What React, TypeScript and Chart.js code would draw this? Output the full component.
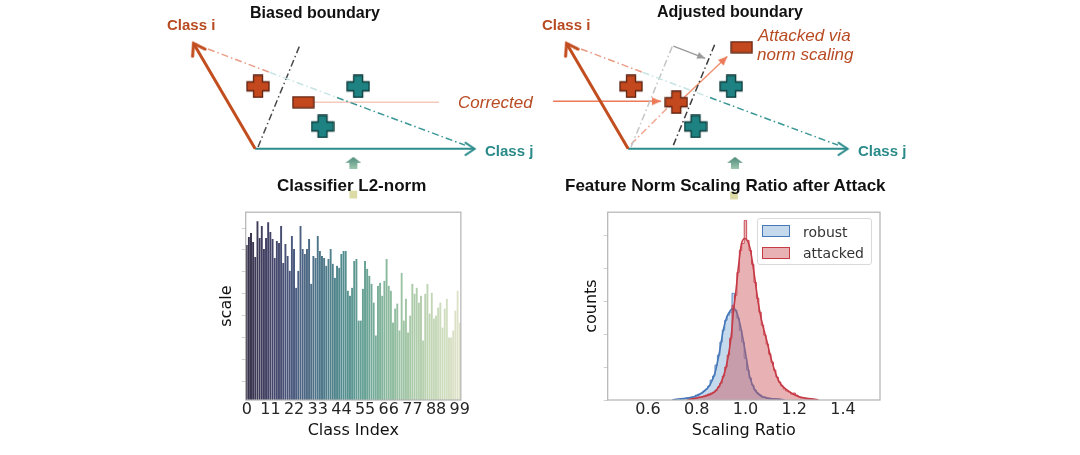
import React, { useEffect, useRef } from 'react';
import { Chart, registerables } from 'chart.js';

Chart.register(...registerables);

// ---------------- data: classifier L2-norm per class ----------------
const CLASS_INDEX: number[] = Array.from({ length: 100 }, (_, i) => i);
const CLASSIFIER_SCALE = [
  156, 164, 168, 159, 144, 180, 163, 175, 152, 163,
  179, 169, 162, 143, 160, 158, 175, 138, 157, 145,
  130, 165, 152, 113, 130, 175, 152, 147, 152, 162,
  117, 145, 143, 165, 150, 145, 143, 135, 142, 152,
  137, 123, 135, 133, 147, 150, 150, 110, 105, 113,
  140, 142, 80, 80, 112, 140, 132, 125, 117, 98,
  65, 115, 118, 105, 120, 142, 115, 110, 78, 92,
  97, 70, 128, 80, 102, 68, 85, 117, 107, 113,
  98, 105, 60, 107, 117, 87, 108, 82, 85, 93,
  98, 73, 92, 102, 63, 63, 70, 90, 110, 78,
];
const BAR_TICK_LABELS = [0, 11, 22, 33, 44, 55, 66, 77, 88, 99];
const BAR_Y_TICKS = [19, 41, 63, 85, 107, 129, 151, 173];
const BAR_PALETTE = ['#38324b', '#444368', '#4b5b7f', '#4e7489', '#528b8e', '#68a396', '#8cba9e', '#aacaa8', '#c7d9b8', '#e0e3c9'];

// ---------------- data: feature norm scaling ratio ----------------
const BIN_WIDTH = 0.01;
const ROBUST_BINS = [
  0.74, 0.75, 0.76, 0.77, 0.78, 0.79, 0.80, 0.81, 0.82, 0.83,
  0.84, 0.85, 0.86, 0.87, 0.88, 0.89, 0.90, 0.91, 0.92, 0.93,
  0.94, 0.95, 0.96, 0.97, 0.98, 0.99, 1.00, 1.01, 1.02, 1.03,
  1.04, 1.05, 1.06, 1.07, 1.08, 1.09, 1.10, 1.11, 1.12, 1.13, 1.14,
];
const ROBUST_COUNTS = [
  1, 1, 2, 2, 3, 3, 5, 6, 7, 9,
  11, 14, 20, 24, 35, 45, 58, 70, 80, 85,
  88, 107, 90, 82, 70, 58, 42, 30, 22, 15,
  10, 7, 5, 3, 3, 2, 1, 1, 1, 1, 1,
];
const ATTACKED_BINS = [
  0.78, 0.79, 0.80, 0.81, 0.82, 0.83, 0.84, 0.85, 0.86, 0.87,
  0.88, 0.89, 0.90, 0.91, 0.92, 0.93, 0.94, 0.95, 0.96, 0.97,
  0.98, 0.99, 1.00, 1.01, 1.02, 1.03, 1.04, 1.05, 1.06, 1.07,
  1.08, 1.09, 1.10, 1.11, 1.12, 1.13, 1.14, 1.15, 1.16, 1.17,
  1.18, 1.19, 1.20, 1.21, 1.22, 1.23, 1.24, 1.25, 1.26, 1.27,
];
const ATTACKED_COUNTS = [
  1, 1, 2, 3, 3, 4, 5, 6, 7, 8,
  10, 13, 17, 24, 33, 45, 62, 95, 105, 128,
  150, 157, 180, 160, 150, 136, 118, 102, 88, 75,
  65, 56, 46, 38, 30, 23, 18, 14, 11, 9,
  8, 6, 7, 5, 3, 2, 2, 1, 1, 1,
];
const ROBUST_KDE_X = [0.70, 0.724, 0.786, 0.827, 0.854, 0.875, 0.895, 0.909, 0.923, 0.939, 0.95, 0.964, 0.977, 0.991, 1.005, 1.018, 1.039, 1.073, 1.128, 1.16];
const ROBUST_KDE_Y = [0, 1, 3, 8, 15, 27, 50, 70, 83, 90, 92, 88, 77, 60, 40, 23, 10, 3, 1, 0];
const ATTACKED_KDE_X = [0.76, 0.80, 0.85, 0.882, 0.909, 0.929, 0.943, 0.95, 0.96, 0.971, 0.984, 0.998, 1.018, 1.032, 1.053, 1.066, 1.087, 1.107, 1.135, 1.183, 1.224, 1.278, 1.30];
const ATTACKED_KDE_Y = [0, 2, 5, 10, 23, 43, 67, 87, 107, 133, 157, 162, 153, 133, 97, 80, 60, 40, 20, 8, 3, 1, 0];
const HIST_X_TICKS = [0.6, 0.8, 1.0, 1.2, 1.4];
const HIST_Y_TICKS = [0, 33, 66, 99, 132, 165];

// ---------------- data: schematic diagrams (local units, y up) ----------------
type P = { x: number; y: number };
const ORIGIN: P = { x: 0, y: 0 };
const CLASS_I_TIP: P = { x: -64, y: 113 };
const CLASS_J_TIP: P = { x: 228, y: 0 };
const IJ_SALMON: P[] = [{ x: -49, y: 107 }, { x: 15, y: 82 }];
const IJ_PALE: P[] = [{ x: 15, y: 82 }, { x: 85, y: 55 }];
const IJ_TEAL: P[] = [{ x: 85, y: 55 }, { x: 218, y: 4 }];
const OLD_BOUNDARY: P[] = [{ x: 3, y: 2 }, { x: 46, y: 110 }];
const NEW_BOUNDARY: P[] = [{ x: 47, y: 4 }, { x: 90, y: 112 }];
const SHIFT_ARROW: P[] = [{ x: 47, y: 110 }, { x: 80, y: 97 }];
const ORANGE_PLUS: P[] = [{ x: 3, y: 67 }];
const TEAL_PLUS: P[] = [{ x: 107, y: 67 }, { x: 70, y: 24 }];
const SAMPLE_POINT: P = { x: 50, y: 50 };
const ATTACKED_POINT: P = { x: 118, y: 109 };
const CORRECTED_LINE: P[] = [{ x: 61, y: 50 }, { x: 191, y: 50 }];
const CORRECTED_ARROW: P[] = [{ x: -78, y: 51 }, { x: 34, y: 51 }];
const ATTACK_DASH: P[] = [{ x: 3, y: 5 }, { x: 42, y: 45 }];
const ATTACK_ARROW: P[] = [{ x: 58, y: 55 }, { x: 103, y: 99 }];
const UP_ARROW: { left: P; right: P } = { left: { x: 102, y: -15 }, right: { x: 111, y: -15 } };
const NOTE_MARK: { left: P; right: P } = { left: { x: 102, y: -49 }, right: { x: 110, y: -50 } };

const CLR_I = '#c24d1f';
const CLR_J = '#2d8b8b';
const DASHDOT = [7, 3, 1.5, 3];
const ROBUST_LINE = 'rgb(70,120,185)';
const ROBUST_FILL = 'rgba(110,160,210,0.4)';
const ATTACKED_LINE = 'rgb(198,58,70)';
const ATTACKED_FILL = 'rgba(205,85,92,0.45)';
const AXIS_FONT = 'DejaVu Sans';
const SANS = '"Liberation Sans", Arial, sans-serif';

// ---------------- helpers ----------------
function hexRgb(h: string) {
  const n = parseInt(h.slice(1), 16);
  return [(n >> 16) & 255, (n >> 8) & 255, n & 255];
}
function paletteColor(t: number) {
  const pos = t * (BAR_PALETTE.length - 1);
  const i = Math.min(Math.floor(pos), BAR_PALETTE.length - 2);
  const f = pos - i;
  const a = hexRgb(BAR_PALETTE[i]);
  const b = hexRgb(BAR_PALETTE[i + 1]);
  const c = a.map((v, k) => Math.round(v + (b[k] - v) * f));
  return `rgb(${c[0]},${c[1]},${c[2]})`;
}
function mk(w: number, h: number, draw: (c: CanvasRenderingContext2D) => void) {
  const cv = document.createElement('canvas');
  cv.width = w;
  cv.height = h;
  draw(cv.getContext('2d') as CanvasRenderingContext2D);
  return cv;
}
function plusImage(fill: string, stroke: string) {
  return mk(24, 24, (c) => {
    const o = 1, s = 22, a = 6.5, b = 15.5;
    c.beginPath();
    c.moveTo(o + a, o); c.lineTo(o + b, o); c.lineTo(o + b, o + a); c.lineTo(o + s, o + a);
    c.lineTo(o + s, o + b); c.lineTo(o + b, o + b); c.lineTo(o + b, o + s); c.lineTo(o + a, o + s);
    c.lineTo(o + a, o + b); c.lineTo(o, o + b); c.lineTo(o, o + a); c.lineTo(o + a, o + a);
    c.closePath();
    c.fillStyle = fill; c.fill();
    c.lineWidth = 1.3; c.strokeStyle = stroke; c.stroke();
  });
}
function minusImage(fill: string, stroke: string) {
  return mk(23, 13, (c) => {
    c.fillStyle = fill; c.fillRect(1, 1, 21, 11);
    c.lineWidth = 1.3; c.strokeStyle = stroke; c.strokeRect(1, 1, 21, 11);
  });
}
function chevronImage(color: string, len: number, width: number) {
  const s = Math.ceil(2 * len + 2 * width + 4);
  return mk(s, s, (c) => {
    const m = s / 2, ang = (34 * Math.PI) / 180;
    c.beginPath();
    c.moveTo(m - len * Math.cos(ang), m - len * Math.sin(ang));
    c.lineTo(m, m);
    c.lineTo(m - len * Math.cos(ang), m + len * Math.sin(ang));
    c.strokeStyle = color; c.lineWidth = width; c.lineCap = 'round'; c.lineJoin = 'miter';
    c.stroke();
  });
}
function triangleHead(color: string, len = 9, half = 4) {
  const s = 2 * len + 2;
  return mk(s, s, (c) => {
    const m = s / 2;
    c.beginPath(); c.moveTo(m, m); c.lineTo(m - len, m - half); c.lineTo(m - len, m + half); c.closePath();
    c.fillStyle = color; c.fill();
  });
}
function upArrowImage() {
  return mk(16, 12, (c) => {
    const g = c.createLinearGradient(0, 0, 0, 12);
    g.addColorStop(0, '#4f8b7c'); g.addColorStop(1, '#9cc7ae');
    c.fillStyle = g;
    c.beginPath();
    c.moveTo(0, 6); c.lineTo(8, 0); c.lineTo(16, 6); c.lineTo(12, 6); c.lineTo(12, 12); c.lineTo(4, 12); c.lineTo(4, 6);
    c.closePath(); c.fill();
  });
}

function lineDs(pts: P[], color: string, width: number, dash: number[] = [], head?: HTMLCanvasElement) {
  const n = pts.length;
  let rot = 0;
  if (head && n >= 2) {
    const a = pts[n - 2], b = pts[n - 1];
    rot = (Math.atan2(-(b.y - a.y), b.x - a.x) * 180) / Math.PI;
  }
  return {
    data: pts,
    showLine: true,
    borderColor: color,
    backgroundColor: color,
    borderWidth: width,
    borderDash: dash,
    fill: false,
    tension: 0,
    pointRadius: pts.map((_, i) => (head && i === n - 1 ? 1 : 0)),
    pointStyle: pts.map((_, i) => (head && i === n - 1 ? head : 'circle')),
    pointRotation: pts.map((_, i) => (i === n - 1 ? rot : 0)),
  };
}
function markerDs(pts: P[], img: HTMLCanvasElement) {
  return { data: pts, showLine: false, pointStyle: img, pointRadius: 6 };
}

const DIAG_W = 372, DIAG_H = 210;
function diagramConfig(panel: 'left' | 'right'): any {
  const plusOrange = plusImage('#c4481e', '#5e2210');
  const plusTeal = plusImage('#1f8282', '#0d3a3a');
  const minus = minusImage('#c4481e', '#5e2210');
  const chevI = chevronImage(CLR_I, 13, 3);
  const chevJ = chevronImage(CLR_J, 11, 2);
  const headSalmon = triangleHead('#ec7a58');
  const headGray = triangleHead('#9a9a9a', 8, 3.5);
  const upArrow = upArrowImage();

  const ds: any[] = [];
  ds.push(markerDs(TEAL_PLUS, plusTeal));
  ds.push(markerDs(ORANGE_PLUS, plusOrange));
  if (panel === 'left') {
    ds.push(markerDs([SAMPLE_POINT], minus));
  } else {
    ds.push(markerDs([SAMPLE_POINT], plusOrange));
    ds.push(markerDs([ATTACKED_POINT], minus));
  }
  ds.push(markerDs([UP_ARROW[panel]], upArrow));
  ds.push({ data: [NOTE_MARK[panel]], showLine: false, pointStyle: 'rect', pointRadius: 5.5, backgroundColor: '#dcdba6', borderWidth: 0 });
  ds.push(lineDs([ORIGIN, CLASS_I_TIP], CLR_I, 3, [], chevI));
  ds.push(lineDs([ORIGIN, CLASS_J_TIP], CLR_J, 2, [], chevJ));
  ds.push(lineDs(IJ_SALMON, '#e99c86', 1.5, DASHDOT));
  ds.push(lineDs(IJ_PALE, '#c6e4e4', 1.5, DASHDOT));
  ds.push(lineDs(IJ_TEAL, '#3a9696', 1.5, DASHDOT));
  if (panel === 'left') {
    ds.push(lineDs(OLD_BOUNDARY, '#4a4a4a', 1.5, DASHDOT));
    ds.push(lineDs(CORRECTED_LINE, '#f5c9bd', 1.5));
  } else {
    ds.push(lineDs(OLD_BOUNDARY, '#c4c4c4', 1.5, DASHDOT));
    ds.push(lineDs(NEW_BOUNDARY, '#3c3c3c', 1.5, DASHDOT));
    ds.push(lineDs(SHIFT_ARROW, '#9a9a9a', 1.3, [], headGray));
    ds.push(lineDs(CORRECTED_ARROW, '#ec7a58', 1.5, [], headSalmon));
    ds.push(lineDs(ATTACK_DASH, '#f2a58f', 1.5, DASHDOT));
    ds.push(lineDs(ATTACK_ARROW, '#f09273', 1.5, [], headSalmon));
  }
  return {
    type: 'scatter',
    data: { datasets: ds },
    options: {
      responsive: false,
      animation: false,
      events: [],
      layout: { padding: 0 },
      plugins: { legend: { display: false }, tooltip: { enabled: false } },
      scales: {
        x: { type: 'linear', min: -102, max: DIAG_W - 102, display: false },
        y: { type: 'linear', min: -58, max: DIAG_H - 58, display: false },
      },
    },
  };
}

const framePlugin = {
  id: 'frame',
  afterDraw(chart: any) {
    const { ctx, chartArea: a } = chart;
    ctx.save();
    ctx.strokeStyle = '#b3b3b3';
    ctx.lineWidth = 1.2;
    ctx.strokeRect(a.left, a.top, a.right - a.left, a.bottom - a.top);
    ctx.restore();
  },
};

function barConfig(): any {
  const colors = CLASS_INDEX.map((i) => paletteColor(i / (CLASS_INDEX.length - 1)));
  return {
    type: 'bar',
    data: {
      labels: CLASS_INDEX,
      datasets: [{
        data: CLASSIFIER_SCALE,
        backgroundColor: colors,
        borderColor: 'rgba(255,255,255,0.55)',
        borderWidth: { left: 0, top: 0, bottom: 0, right: 0.5 },
        borderSkipped: false,
        barPercentage: 1,
        categoryPercentage: 1,
      }],
    },
    options: {
      responsive: false,
      animation: false,
      events: [],
      layout: { padding: { top: 6, right: 7, left: 0, bottom: 0 } },
      plugins: { legend: { display: false }, tooltip: { enabled: false } },
      scales: {
        x: {
          grid: { display: false, drawTicks: false },
          border: { display: false },
          ticks: {
            autoSkip: false, maxRotation: 0, minRotation: 0, padding: 0,
            font: { family: AXIS_FONT, size: 16 }, color: '#262626',
            callback: (_v: any, i: number) => (BAR_TICK_LABELS.includes(i) ? String(i) : ''),
          },
          title: { display: true, text: 'Class Index', font: { family: AXIS_FONT, size: 16 }, color: '#111', padding: { top: 0, bottom: 9.4 } },
          afterFit: (s: any) => { s.height = 50; },
        },
        y: {
          min: 0, max: 189,
          grid: { drawOnChartArea: false, drawTicks: true, tickLength: 4, color: '#d0d0d0' },
          border: { display: false },
          ticks: { callback: () => '', padding: 0 },
          afterBuildTicks: (s: any) => { s.ticks = BAR_Y_TICKS.map((v) => ({ value: v })); },
          title: { display: true, text: 'scale', font: { family: AXIS_FONT, size: 16 }, color: '#111', padding: { top: 22.4, bottom: 0 } },
          afterFit: (s: any) => { s.width = 50.7; },
        },
      },
    },
    plugins: [framePlugin],
  };
}

function stepTable(bins: number[], counts: number[]) {
  const n = bins.length;
  return [
    { x: bins[0] - BIN_WIDTH, y: 0 },
    ...bins.map((b, i) => ({ x: b, y: counts[i] })),
    { x: bins[n - 1] + BIN_WIDTH, y: 0 },
  ];
}
function zip(xs: number[], ys: number[]) {
  return xs.map((x, i) => ({ x, y: ys[i] }));
}

function histConfig(): any {
  return {
    type: 'line',
    data: {
      datasets: [
        { label: 'attacked kde', data: zip(ATTACKED_KDE_X, ATTACKED_KDE_Y), borderColor: ATTACKED_LINE, borderWidth: 1.6, pointRadius: 0, fill: false, cubicInterpolationMode: 'monotone', order: 1 },
        { label: 'attacked', data: stepTable(ATTACKED_BINS, ATTACKED_COUNTS), stepped: 'middle', fill: 'origin', backgroundColor: ATTACKED_FILL, borderColor: 'rgba(198,58,70,0.85)', borderWidth: 1, pointRadius: 0, order: 2 },
        { label: 'robust kde', data: zip(ROBUST_KDE_X, ROBUST_KDE_Y), borderColor: ROBUST_LINE, borderWidth: 1.6, pointRadius: 0, fill: false, cubicInterpolationMode: 'monotone', order: 3 },
        { label: 'robust', data: stepTable(ROBUST_BINS, ROBUST_COUNTS), stepped: 'middle', fill: 'origin', backgroundColor: ROBUST_FILL, borderColor: 'rgba(70,120,185,0.85)', borderWidth: 1, pointRadius: 0, order: 4 },
      ],
    },
    options: {
      responsive: false,
      animation: false,
      events: [],
      layout: { padding: { top: 6.7, right: 10, left: 0, bottom: 0 } },
      plugins: { legend: { display: false }, tooltip: { enabled: false } },
      scales: {
        x: {
          type: 'linear', min: 0.435, max: 1.552,
          grid: { display: false, drawTicks: false },
          border: { display: false },
          afterBuildTicks: (s: any) => { s.ticks = HIST_X_TICKS.map((v) => ({ value: v })); },
          ticks: { padding: 0, maxRotation: 0, font: { family: AXIS_FONT, size: 16 }, color: '#262626', callback: (v: any) => Number(v).toFixed(1) },
          title: { display: true, text: 'Scaling Ratio', font: { family: AXIS_FONT, size: 16 }, color: '#111', padding: { top: 0, bottom: 9.4 } },
          afterFit: (s: any) => { s.height = 50; },
        },
        y: {
          type: 'linear', min: 0, max: 188.3,
          grid: { drawOnChartArea: false, drawTicks: true, tickLength: 4, color: '#d0d0d0' },
          border: { display: false },
          afterBuildTicks: (s: any) => { s.ticks = HIST_Y_TICKS.map((v) => ({ value: v })); },
          ticks: { callback: () => '', padding: 0 },
          title: { display: true, text: 'counts', font: { family: AXIS_FONT, size: 16 }, color: '#111', padding: { top: 22.4, bottom: 0 } },
          afterFit: (s: any) => { s.width = 47.7; },
        },
      },
    },
    plugins: [framePlugin],
  };
}

function ChartCanvas(props: { make: () => any; left: number; top: number; width: number; height: number }) {
  const ref = useRef<HTMLCanvasElement>(null);
  useEffect(() => {
    const chart = new Chart(ref.current as HTMLCanvasElement, props.make());
    return () => chart.destroy();
  }, []);
  return (
    <canvas
      ref={ref}
      width={props.width}
      height={props.height}
      style={{ position: 'absolute', left: props.left, top: props.top, width: props.width, height: props.height }}
    />
  );
}

function Txt(props: { x: number; y: number; size: number; color: string; bold?: boolean; italic?: boolean; children: string }) {
  return (
    <div
      style={{
        position: 'absolute',
        left: props.x,
        top: props.y - props.size * 0.49,
        fontFamily: SANS,
        fontSize: props.size,
        lineHeight: `${props.size}px`,
        fontWeight: props.bold ? 700 : 400,
        fontStyle: props.italic ? 'italic' : 'normal',
        color: props.color,
        whiteSpace: 'nowrap',
      }}
    >
      {props.children}
    </div>
  );
}

export default function App() {
  const orange = '#b84a22';
  const teal = '#2a8a8a';
  return (
    <div style={{ position: 'fixed', left: 0, top: 0, width: 1080, height: 455, background: '#fff', overflow: 'hidden' }}>
      <ChartCanvas make={() => diagramConfig('left')} left={150} top={0} width={DIAG_W} height={DIAG_H} />
      <ChartCanvas make={() => diagramConfig('right')} left={523} top={0} width={DIAG_W} height={DIAG_H} />
      <ChartCanvas make={barConfig} left={195} top={205} width={275} height={245} />
      <ChartCanvas make={histConfig} left={560} top={205} width={330} height={245} />

      <Txt x={167} y={24} size={15} bold color={orange}>Class i</Txt>
      <Txt x={250} y={13} size={16} bold color="#111">Biased boundary</Txt>
      <Txt x={485} y={150} size={15} bold color={teal}>Class j</Txt>
      <Txt x={458} y={102} size={17} italic color={orange}>Corrected</Txt>
      <Txt x={277} y={185} size={17} bold color="#111">Classifier L2-norm</Txt>

      <Txt x={542} y={24} size={15} bold color={orange}>Class i</Txt>
      <Txt x={657} y={12} size={16} bold color="#111">Adjusted boundary</Txt>
      <Txt x={858} y={150} size={15} bold color={teal}>Class j</Txt>
      <Txt x={758} y={35} size={17} italic color={orange}>Attacked via</Txt>
      <Txt x={757} y={54} size={17} italic color={orange}>norm scaling</Txt>
      <Txt x={565} y={185} size={17} bold color="#111">Feature Norm Scaling Ratio after Attack</Txt>

      <div style={{ position: 'absolute', left: 757, top: 218, width: 115, height: 47, border: '1px solid #d9d9d9', borderRadius: 3, background: 'rgba(255,255,255,0.85)', boxSizing: 'border-box' }}>
        <div style={{ position: 'absolute', left: 4, top: 6, width: 28, height: 12, background: ROBUST_FILL, border: `1px solid ${ROBUST_LINE}`, boxSizing: 'border-box' }} />
        <div style={{ position: 'absolute', left: 45, top: 3.5, fontFamily: AXIS_FONT, fontSize: 14, lineHeight: '18px', color: '#333', whiteSpace: 'nowrap' }}>robust</div>
        <div style={{ position: 'absolute', left: 4, top: 28, width: 28, height: 12, background: ATTACKED_FILL, border: `1px solid ${ATTACKED_LINE}`, boxSizing: 'border-box' }} />
        <div style={{ position: 'absolute', left: 45, top: 25, fontFamily: AXIS_FONT, fontSize: 14, lineHeight: '18px', color: '#333', whiteSpace: 'nowrap' }}>attacked</div>
      </div>
    </div>
  );
}
